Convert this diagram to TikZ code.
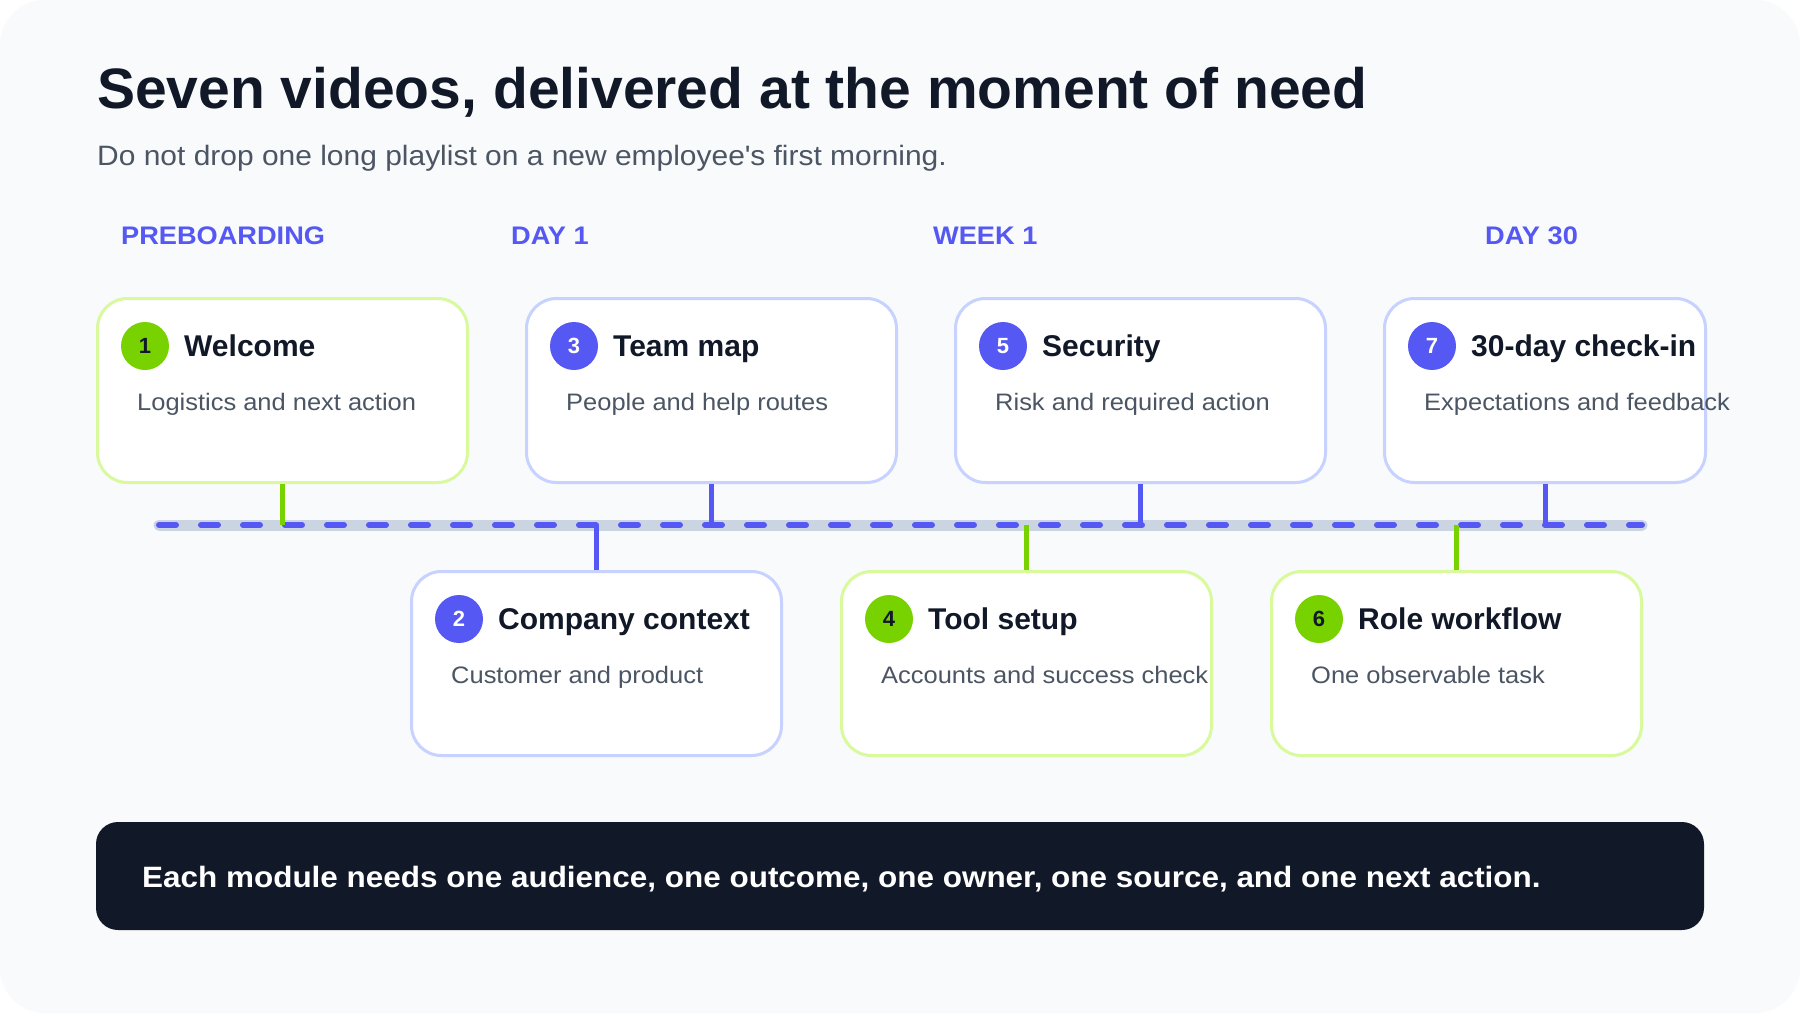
\documentclass[tikz,border=0pt]{standalone}
\usepackage{fontspec}
\setmainfont{Liberation Sans}
\newfontfamily\widefont[FakeStretch=1.07]{Liberation Sans}
\usetikzlibrary{positioning}
\definecolor{pagebg}{HTML}{F8FAFC}
\definecolor{ink}{HTML}{111827}
\definecolor{slate}{HTML}{4B5563}
\definecolor{indigo}{HTML}{5558F2}
\definecolor{indigoedge}{HTML}{C7D2FE}
\definecolor{lime}{HTML}{78D200}
\definecolor{limeedge}{HTML}{D9F99D}
\definecolor{railgray}{HTML}{CBD5E1}
\newcommand{\setsize}[1]{\fontsize{#1}{#1}\selectfont}
\tikzset{
  card/.style={rectangle,rounded corners=30pt,line width=3pt,fill=white,minimum height=184pt,anchor=north west,inner sep=0pt},
  greencard/.style={card,draw=limeedge},
  bluecard/.style={card,draw=indigoedge},
  badge/.style={circle,minimum size=48pt,inner sep=0pt,font=\setsize{22}\bfseries},
  greenbadge/.style={badge,fill=lime,text=ink},
  bluebadge/.style={badge,fill=indigo,text=white},
  cardtitle/.style={anchor=base west,inner sep=0pt,text=ink,font=\setsize{30}\bfseries},
  cardtext/.style={anchor=base west,inner sep=0pt,text=slate,font=\widefont\setsize{23.8}},
  phase/.style={anchor=base west,inner sep=0pt,text=indigo,font=\widefont\setsize{25.4}\bfseries},
  stem/.style={line width=5pt},
}
% name, x, y, width, kind, number, title, text
\newcommand{\module}[8]{%
  \node (#1) [#5card,minimum width=#4pt] at (#2,#3) {};
  \node (#1n) [#5badge] at ([shift={(49,49)}]#1.north west) {#6};
  \node (#1t) [cardtitle] at ([shift={(88,59)}]#1.north west) {#7};
  \node (#1s) [cardtext] at ([shift={(41,113)}]#1.north west) {#8};
}

\begin{document}
\begin{tikzpicture}[x=1pt,y=-1pt]
\useasboundingbox (0,0) rectangle (1800,1013);
\fill[white] (0,0) rectangle (1800,1013);
\fill[pagebg,rounded corners=45pt] (0,0) rectangle (1800,1013);
%
\node (title) [anchor=base west,inner sep=0pt,text=ink,font=\setsize{57}\bfseries] at (97,108) {Seven videos, delivered at the moment of need};
\node (lead) [anchor=base west,inner sep=0pt,text=slate,font=\widefont\setsize{28}] at (97,165) {Do not drop one long playlist on a new employee\textquotesingle s first morning.};
%
\node (p0) [phase] at (121,244) {PREBOARDING};
\node (p1) [phase] at (511,244) {DAY 1};
\node (p2) [phase] at (933,244) {WEEK 1};
\node (p3) [phase] at (1485,244) {DAY 30};
%
\coordinate (rail0) at (159,525);
\coordinate (rail1) at (1642,525);
\draw[railgray,line width=11pt,line cap=round] (rail0) -- (rail1);
\draw[indigo,line width=6pt,line cap=round,dash pattern=on 17pt off 25pt] (rail0) -- (rail1);
%
\module{m1}{96}{297}{370}{green}{1}{Welcome}{Logistics and next action}
\module{m3}{525}{297}{370}{blue}{3}{Team map}{People and help routes}
\module{m5}{954}{297}{370}{blue}{5}{Security}{Risk and required action}
\module{m7}{1383}{297}{321}{blue}{7}{30-day check-in}{Expectations and feedback}
\module{m2}{410}{570}{370}{blue}{2}{Company context}{Customer and product}
\module{m4}{840}{570}{370}{green}{4}{Tool setup}{Accounts and success check}
\module{m6}{1270}{570}{370}{green}{6}{Role workflow}{One observable task}
%
\draw[stem,lime] (m1.south) -- (m1.south |- rail0);
\draw[stem,indigo] (m3.south) -- (m3.south |- rail0);
\draw[stem,indigo] (m5.south) -- (m5.south |- rail0);
\draw[stem,indigo] (m7.south) -- (m7.south |- rail0);
\draw[stem,indigo] (m2.north) -- (m2.north |- rail0);
\draw[stem,lime] (m4.north) -- (m4.north |- rail0);
\draw[stem,lime] (m6.north) -- (m6.north |- rail0);
%
\node (note) [rectangle,rounded corners=22pt,fill=ink,minimum width=1608pt,minimum height=108pt,inner sep=0pt] at (900,876) {};
\node (notetext) [anchor=base west,inner sep=0pt,text=white,font=\widefont\setsize{29.4}\bfseries] at (142,887) {Each module needs one audience, one outcome, one owner, one source, and one next action.};
\end{tikzpicture}
\end{document}
